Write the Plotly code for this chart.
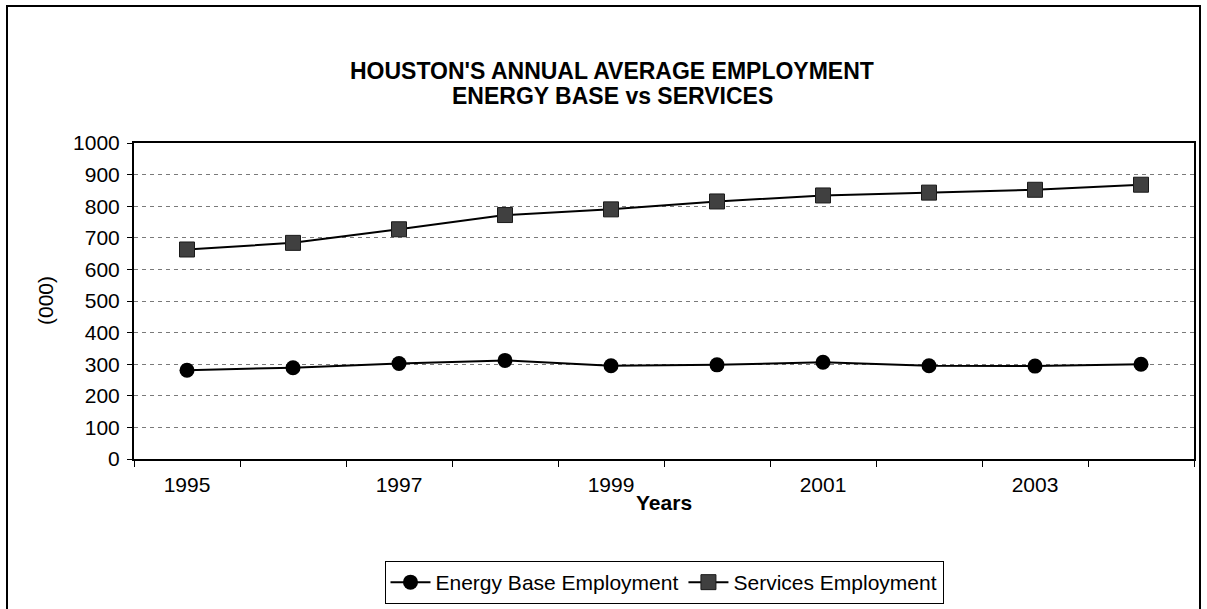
import plotly.graph_objects as go

# Annual average employment, thousands
years = [1995, 1996, 1997, 1998, 1999, 2000, 2001, 2002, 2003, 2004]
energy_base = [281, 289, 302, 312, 295, 298, 306, 295, 294, 300]
services = [663, 684, 727, 772, 790, 815, 834, 843, 852, 868]
year_labels = ["1995", "1997", "1999", "2001", "2003"]
title_lines = ["HOUSTON'S ANNUAL AVERAGE EMPLOYMENT", "ENERGY BASE vs SERVICES"]

FONT = "Liberation Sans, Arial, sans-serif"
W, H = 1207, 609

# plot-area geometry in pixels
PL, PR, PT, PB = 134, 1194, 143, 459
PW, PH = PR - PL, PB - PT


def px_x(x):
    return (x - PL) / PW


def px_y(y):
    return (PB - y) / PH


fig = go.Figure()

fig.add_trace(go.Scatter(
    x=years, y=energy_base, name="Energy Base Employment",
    mode="lines+markers",
    line=dict(color="black", width=2),
    marker=dict(symbol="circle", size=15, color="black"),
))
fig.add_trace(go.Scatter(
    x=years, y=services, name="Services Employment",
    mode="lines+markers",
    line=dict(color="black", width=2),
    marker=dict(symbol="square", size=15, color="#404040",
                line=dict(color="#1a1a1a", width=1)),
))

fig.update_layout(
    width=W, height=H,
    margin=dict(l=PL, r=W - PR, t=PT, b=H - PB, autoexpand=False),
    paper_bgcolor="white", plot_bgcolor="white",
    font=dict(family=FONT, size=21, color="black"),
    showlegend=True,
    legend=dict(
        orientation="h", x=0.5, xanchor="center",
        yref="container", y=1 - 561 / H, yanchor="top",
        bordercolor="black", borderwidth=1, bgcolor="white",
        font=dict(family=FONT, size=21, color="black"),
        itemwidth=40,
    ),
)

fig.update_xaxes(
    automargin=False,
    range=[1994.5, 2004.5],
    tickmode="array",
    tickvals=[int(v) for v in year_labels],
    ticktext=year_labels,
    ticks="", ticklabelstandoff=6,
    showgrid=False, zeroline=False,
    showline=True, linecolor="black", linewidth=2, mirror=True,
    minor=dict(tickmode="array",
               tickvals=[y - 0.5 for y in years] + [years[-1] + 0.5],
               ticks="outside", ticklen=6, tickcolor="black", showgrid=False),
    tickfont=dict(family=FONT, size=21, color="black"),
)
fig.update_yaxes(
    automargin=False,
    range=[0, 1000], dtick=100,
    ticks="outside", ticklen=5, tickcolor="black",
    showgrid=True, gridcolor="#7a7a7a", griddash="4px,4px", gridwidth=1,
    zeroline=False,
    showline=True, linecolor="black", linewidth=2, mirror=True,
    tickfont=dict(family=FONT, size=21, color="black"),
    ticklabelstandoff=3,
)

# Two-line bold title
for line, yc in zip(title_lines, (71, 96)):
    fig.add_annotation(text=f"<b>{line}</b>", xref="paper", yref="paper",
                       x=px_x(612), y=px_y(yc), xanchor="center", yanchor="middle",
                       showarrow=False,
                       font=dict(family=FONT, size=23, color="black"))

# Axis titles
fig.add_annotation(text="(000)", xref="paper", yref="paper",
                   x=px_x(45), y=0.5, xanchor="center", yanchor="middle",
                   textangle=-90, showarrow=False,
                   font=dict(family=FONT, size=21, color="black"))
fig.add_annotation(text="<b>Years</b>", xref="paper", yref="paper",
                   x=0.5, y=px_y(502), xanchor="center", yanchor="middle",
                   showarrow=False,
                   font=dict(family=FONT, size=21, color="black"))

# Outer chart frame
fig.add_shape(type="rect", xref="paper", yref="paper",
              x0=px_x(7), x1=px_x(1200), y0=px_y(640), y1=px_y(6),
              line=dict(color="black", width=2), layer="below")

fig.write_html("out.html")
